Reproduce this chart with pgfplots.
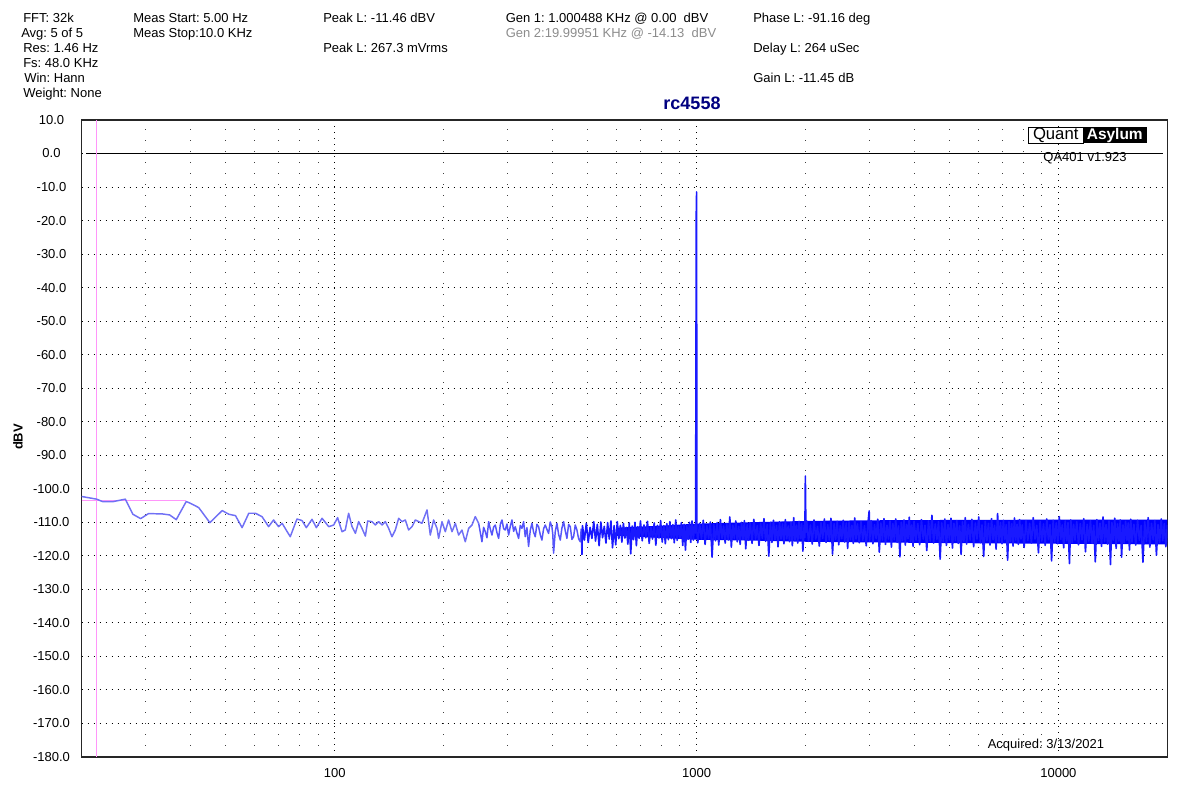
\documentclass[border=0pt]{standalone}
\usepackage{fontspec}
\setmainfont{Liberation Sans}
\usepackage{pgfplots}
\usepackage{pgfplotstable}
\pgfplotsset{compat=1.18}
\definecolor{traceA}{RGB}{112,112,245}
\definecolor{traceM}{RGB}{85,85,250}
\definecolor{traceB}{RGB}{25,25,255}
\definecolor{traceC}{RGB}{0,0,255}
\definecolor{cursor}{RGB}{255,150,250}
\definecolor{navy}{RGB}{0,0,128}
\definecolor{gengray}{RGB}{140,140,140}

\pgfplotstableread{
f db
20 -102.3
22.0 -103.1
22.8 -103.8
24.5 -103.8
26.4 -103.1
27.7 -107.6
29.1 -108.9
30.6 -107.4
33.4 -107.5
35.0 -107.8
36.5 -109.2
38.9 -103.8
39.9 -104.3
42.1 -105.6
45.2 -110.1
48.9 -106.5
51.0 -107.6
53.2 -108.0
55.5 -111.6
57.9 -107.3
60.4 -107.3
63.0 -108.3
65.7 -111.3
67.8 -109.3
70.0 -111.3
71.6 -110.3
75.4 -114.3
78.7 -109.0
81.3 -109.5
83.5 -111.6
86.6 -109.1
89.0 -111.6
92.3 -108.8
96.3 -111.3
99.4 -110.8
101.9 -108.6
104.8 -112.8
107.0 -112.3
109.3 -107.3
111.7 -111.3
114.1 -113.3
116.5 -109.8
119.0 -111.8
121.6 -114.1
123.4 -109.6
126.8 -109.8
129.5 -110.8
132.3 -109.8
135.2 -110.8
138.1 -109.8
141.0 -111.8
144.0 -114.3
147.1 -112.3
150.3 -108.8
153.5 -109.8
156.8 -109.3
160.1 -112.3
163.6 -111.3
167.1 -109.3
170.7 -109.8
174.3 -110.3
180.0 -106.3
183.8 -113.8
187.7 -109.3
191.8 -111.8
193.8 -114.8
198.0 -109.8
202.2 -112.8
206.5 -109.3
211.0 -112.8
215.5 -110.3
220.1 -113.8
224.8 -112.3
229.6 -115.8
234.6 -111.8
239.6 -110.8
244.7 -108.3
250.0 -110.3
}\lowdata

\pgfplotstableread{
f db
250.0 -110.3
252.6 -113.0
255.3 -115.8
258.0 -111.5
260.8 -112.8
263.6 -114.6
266.4 -109.8
269.2 -112.0
272.1 -113.8
275.0 -111.4
277.9 -110.8
280.9 -113.1
283.9 -114.8
287.0 -110.6
290.0 -109.3
293.1 -111.9
296.2 -112.3
299.3 -110.5
302.5 -113.8
305.8 -111.2
309.0 -109.3
312.3 -112.7
315.6 -111.3
319.0 -113.2
322.4 -114.8
325.8 -110.9
329.3 -111.8
332.8 -109.8
336.3 -114.3
339.9 -111.6
343.5 -117.2
347.2 -112.4
350.9 -110.3
354.6 -112.9
358.4 -114.3
362.2 -110.6
366.1 -111.3
370.0 -113.7
373.9 -115.3
378.0 -111.9
382.0 -110.8
386.0 -112.1
390.1 -113.3
394.3 -109.9
398.5 -111.3
400.6 -113.5
402.7 -119.2
407.0 -112.8
411.4 -110.3
415.8 -113.6
420.2 -115.3
424.7 -111.7
429.2 -109.8
433.8 -112.5
438.4 -114.8
443.1 -110.6
447.8 -111.3
452.6 -115.1
457.4 -114.3
462.3 -110.8
467.2 -112.3
472.2 -114.9
477.2 -115.8
480.0 -112.0
482.3 -119.7
}\middata

\pgfplotstableread{
f db
482.3 -119.7
484 -111.0
490 -115.3
496 -110.3
502 -116.0
508 -111.5
514 -114.8
520 -109.8
526 -115.6
532 -110.6
538 -117.0
544 -109.9
550 -114.6
556 -111.2
562 -116.2
568 -110.1
574 -115.0
580 -109.6
586 -117.6
592 -111.0
598 -116.7
604 -109.8
610 -114.9
616 -110.9
622 -115.9
628 -110.3
634 -114.7
640 -111.5
646 -116.5
652 -110.2
658 -119.4
664 -111.1
670 -115.2
676 -110.0
682 -117.0
688 -111.3
694 -114.8
700 -109.6
708 -115.5
716 -110.8
724 -114.6
732 -109.7
740 -116.3
748 -111.4
756 -115.0
764 -110.2
772 -116.8
780 -110.9
788 -114.7
796 -109.5
804 -115.9
812 -111.0
820 -116.4
828 -110.4
836 -115.2
844 -109.8
852 -114.9
860 -110.7
868 -116.1
876 -109.3
884 -115.4
892 -111.2
900 -114.8
908 -110.1
916 -116.9
924 -110.6
932 -118.3
940 -110.9
948 -115.1
956 -110.0
964 -116.0
972 -109.6
980 -115.3
988 -110.8
994 -113.2
998.5 -17.3
1000.5 -11.46
1002 -112.5
1008 -116.1
1020 -110.3
1032 -115.0
1044 -109.4
1056 -116.6
1068 -111.0
1080 -114.9
1092 -109.9
1104 -120.4
1116 -110.6
1128 -115.5
1140 -110.1
1152 -116.8
1164 -109.2
1176 -114.8
1188 -111.1
1200 -116.2
1212 -110.4
1224 -115.3
1236 -108.4
1248 -117.4
1260 -110.8
1272 -114.9
1284 -109.6
1296 -115.8
1308 -111.2
1320 -116.6
1332 -110.0
1344 -115.1
1356 -109.5
1368 -117.9
1380 -110.7
1392 -115.4
1408 -110.2
1424 -116.3
1440 -109.1
1456 -115.0
1472 -111.0
1488 -116.9
1504 -110.3
1520 -114.8
1536 -108.9
1552 -115.7
1568 -110.6
1584 -120.1
1600 -110.1
1616 -116.0
1632 -109.4
1648 -115.2
1664 -110.9
1680 -117.3
1696 -109.8
1712 -115.0
1728 -110.5
1744 -116.4
1760 -109.2
1776 -114.9
1792 -111.1
1808 -115.8
1824 -110.0
1840 -117.0
1856 -108.6
1872 -115.3
1888 -110.8
1904 -116.2
1920 -109.7
1936 -114.9
1952 -110.4
1968 -118.6
1984 -110.9
1992 -114.5
1999 -96.2
2006 -113.0
2016 -109.6
2040 -115.7
2064 -110.8
2088 -116.5
2112 -109.3
2136 -115.0
2160 -111.2
2184 -117.1
2208 -110.1
2232 -114.8
2256 -109.0
2280 -116.0
2304 -110.7
2328 -115.3
2352 -108.8
2376 -119.5
2400 -110.4
2424 -115.1
2448 -109.7
2472 -116.7
2496 -111.0
2520 -114.9
2544 -109.4
2568 -115.9
2592 -110.2
2616 -117.8
2640 -109.9
2664 -115.2
2688 -110.9
2712 -116.3
2736 -108.7
2760 -115.0
2784 -110.5
2816 -116.1
2848 -109.8
2880 -115.4
2912 -111.0
2944 -117.0
2976 -110.3
3000 -106.6
3008 -115.6
3040 -109.5
3072 -116.4
3104 -110.7
3136 -114.9
3168 -109.1
3200 -118.9
3232 -110.2
3264 -115.3
3296 -108.9
3328 -116.6
3360 -110.9
3392 -115.0
3424 -109.6
3456 -117.4
3488 -110.4
3520 -115.2
3552 -109.0
3584 -116.0
3616 -111.1
3648 -120.3
3680 -110.0
3712 -115.5
3744 -109.3
3776 -116.8
3808 -110.6
3840 -114.9
3872 -108.5
3904 -115.8
3936 -110.8
3968 -117.2
3992 -109.7
4040 -115.3
4088 -110.4
4136 -116.7
4184 -109.2
4232 -115.0
4280 -110.9
4328 -118.4
4376 -109.6
4424 -115.6
4472 -107.9
4520 -116.2
4568 -110.5
4616 -115.1
4664 -109.8
4712 -121.0
4760 -110.2
4808 -115.8
4856 -109.0
4904 -116.9
4952 -110.7
5000 -115.2
5048 -108.8
5096 -117.7
5144 -110.3
5192 -115.4
5240 -109.5
5288 -116.3
5336 -111.0
5384 -119.6
5432 -109.9
5480 -115.7
5528 -108.6
5576 -116.5
5640 -110.6
5704 -115.3
5768 -109.1
5832 -117.3
5896 -110.2
5960 -115.0
6024 -108.4
6088 -116.1
6152 -110.8
6216 -120.2
6280 -109.7
6344 -115.5
6408 -110.3
6472 -116.8
6536 -108.9
6600 -115.2
6664 -110.9
6728 -118.0
6792 -107.4
6856 -115.9
6920 -110.1
6984 -116.4
7048 -109.4
7112 -115.1
7176 -110.7
7240 -121.3
7304 -109.8
7368 -115.7
7432 -110.4
7496 -117.1
7560 -108.7
7624 -115.3
7688 -110.6
7752 -116.6
7816 -109.2
7880 -115.0
7944 -110.8
8040 -117.5
8136 -109.5
8232 -115.4
8328 -110.3
8424 -116.2
8520 -108.6
8616 -115.0
8712 -110.9
8808 -119.1
8904 -109.7
9000 -115.6
9096 -110.5
9192 -116.9
9288 -109.0
9384 -115.2
9480 -110.7
9576 -121.5
9672 -109.4
9768 -115.8
9864 -110.2
9960 -116.4
10056 -108.3
10152 -115.1
10248 -110.8
10344 -117.6
10440 -109.6
10536 -115.5
10632 -110.1
10728 -122.3
10824 -109.3
10920 -116.0
11016 -110.6
11112 -115.3
11240 -109.8
11368 -116.7
11496 -110.4
11624 -115.2
11752 -108.9
11880 -118.8
12008 -110.6
12136 -115.6
12264 -109.5
12392 -116.3
12520 -110.9
12648 -121.8
12776 -109.2
12904 -115.4
13032 -110.3
13160 -117.2
13288 -108.4
13416 -115.8
13544 -110.7
13672 -116.5
13800 -109.6
13928 -122.6
14056 -110.1
14184 -115.3
14312 -108.8
14440 -117.8
14568 -110.5
14696 -115.6
14824 -109.3
14952 -120.4
15080 -110.8
15208 -116.1
15336 -109.7
15464 -115.4
15592 -110.2
15720 -118.3
15848 -109.1
15976 -115.9
16168 -110.6
16360 -116.8
16552 -109.4
16744 -115.3
16936 -110.9
17128 -121.9
17320 -109.8
17512 -115.7
17704 -108.6
17896 -117.4
18088 -110.3
18280 -115.2
18472 -109.5
18664 -119.8
18856 -110.7
19048 -116.0
19240 -109.0
19432 -115.5
19624 -110.4
19816 -117.3
20000 -110.8
}\highdata

% solid core of the dense noise band: upper edge left to right, lower edge back
\pgfplotstableread{
f db
600 -111.6
800 -111.0
1000 -110.4
1500 -109.9
2000 -109.6
3000 -109.4
5000 -109.3
10000 -109.2
20000 -109.2
20000 -116.6
10000 -116.4
5000 -116.2
3000 -116.0
2000 -115.8
1500 -115.5
1000 -115.2
800 -114.7
600 -114.0
}\coredata

\begin{document}
\frenchspacing
\fontsize{9.75pt}{11.7pt}\selectfont
\begin{tikzpicture}
\useasboundingbox (0,0) rectangle (900pt,593.25pt);
\begin{axis}[
  at={(61.275pt,25.5pt)}, anchor=south west,
  scale only axis, width=814.2pt, height=477.75pt,
  xmode=log, xmin=20, xmax=20000, ymin=-180, ymax=10,
  axis line style={line width=1pt, black!85},
  xtick={100,1000,10000}, xticklabels={100,1000,10000},
  minor xtick={20,30,40,50,60,70,80,90,200,300,400,500,600,700,800,900,2000,3000,4000,5000,6000,7000,8000,9000},
  ytick={-180,-170,-160,-150,-140,-130,-120,-110,-100,-90,-80,-70,-60,-50,-40,-30,-20,-10,0,10},
  yticklabels={-180.0,-170.0,-160.0,-150.0,-140.0,-130.0,-120.0,-110.0,-100.0,-90.0,-80.0,-70.0,-60.0,-50.0,-40.0,-30.0,-20.0,-10.0,0.0,10.0},
  major tick length=0pt, minor tick length=0pt,
  xmajorgrids, ymajorgrids, xminorgrids,
  major grid style={black, line width=0.75pt, dash pattern=on 0.75pt off 3.75pt},
  minor grid style={black!75, line width=0.75pt, dash pattern=on 0.75pt off 7.5pt},
  tick label style={font=\fontsize{9.75pt}{11pt}\selectfont},
  xticklabel style={inner sep=0pt, anchor=north, yshift=-8.5pt},
  yticklabel style={inner sep=0pt, anchor=center, xshift=-22.65pt},
  clip=true,
]
\addplot[black, line width=0.8pt] coordinates {(20.6,0) (19460,0)};
\addplot[cursor, line width=0.8pt] coordinates {(22,-180) (22,10)};
\addplot[cursor, line width=0.8pt] coordinates {(20,-103.6) (38.9,-103.6)};
\addplot[traceA, line width=1.1pt, line join=round] table[x=f, y=db] {\lowdata};
\addplot[traceM, line width=1.1pt, line join=round] table[x=f, y=db] {\middata};
\addplot[fill=traceC, draw=none] table[x=f, y=db] {\coredata} -- cycle;
\addplot[traceB, line width=1.2pt, line join=round] table[x=f, y=db] {\highdata};
\end{axis}
\begin{scope}[x=0.75pt, y=-0.75pt, yshift=593.25pt]
  \tikzset{hdr/.style={anchor=base west, inner sep=0pt}}
  \node[hdr] at (23,22.7) {FFT: 32k};
  \node[hdr] at (21,37.7) {Avg: 5 of 5};
  \node[hdr] at (23,52.7) {Res: 1.46 Hz};
  \node[hdr] at (23,67.7) {Fs: 48.0 KHz};
  \node[hdr] at (24,82.7) {Win: Hann};
  \node[hdr] at (23,97.7) {Weight: None};
  \node[hdr] at (133,22.7) {Meas Start: 5.00 Hz};
  \node[hdr] at (133,37.7) {Meas Stop:10.0 KHz};
  \node[hdr] at (323,22.7) {Peak L: -11.46 dBV};
  \node[hdr] at (323,52.7) {Peak L: 267.3 mVrms};
  \node[hdr] at (505.5,22.7) {Gen 1: 1.000488 KHz @ 0.00~ dBV};
  \node[hdr, text=gengray] at (505.5,37.7) {Gen 2:19.99951 KHz @ -14.13~ dBV};
  \node[hdr] at (753,22.7) {Phase L: -91.16 deg};
  \node[hdr] at (753,52.7) {Delay L: 264 uSec};
  \node[hdr] at (753,82.7) {Gain L: -11.45 dB};
  \node[anchor=base, inner sep=0pt, text=navy, font=\fontsize{13.5pt}{15pt}\selectfont\bfseries] at (692,109.5) {rc4558};
  \node[rotate=90, inner sep=0pt, font=\bfseries] at (18,437) {dBV};
  \draw[black, line width=0.75pt, fill=white] (1028.3,127.3) rectangle (1083,143.3);
  \fill[black] (1083,127.3) rectangle (1146.7,143.3);
  \node[inner sep=0pt, font=\fontsize{12.5pt}{14pt}\selectfont] at (1055.7,135.3) {Quant};
  \node[inner sep=0pt, text=white, font=\fontsize{11.6pt}{13pt}\selectfont\bfseries] at (1114.8,135.5) {Asylum};
  \node[inner sep=0pt] at (1085,158) {QA401 v1.923};
  \node[inner sep=0pt] at (1046,745) {Acquired: 3/13/2021};
\end{scope}
\end{tikzpicture}
\end{document}
